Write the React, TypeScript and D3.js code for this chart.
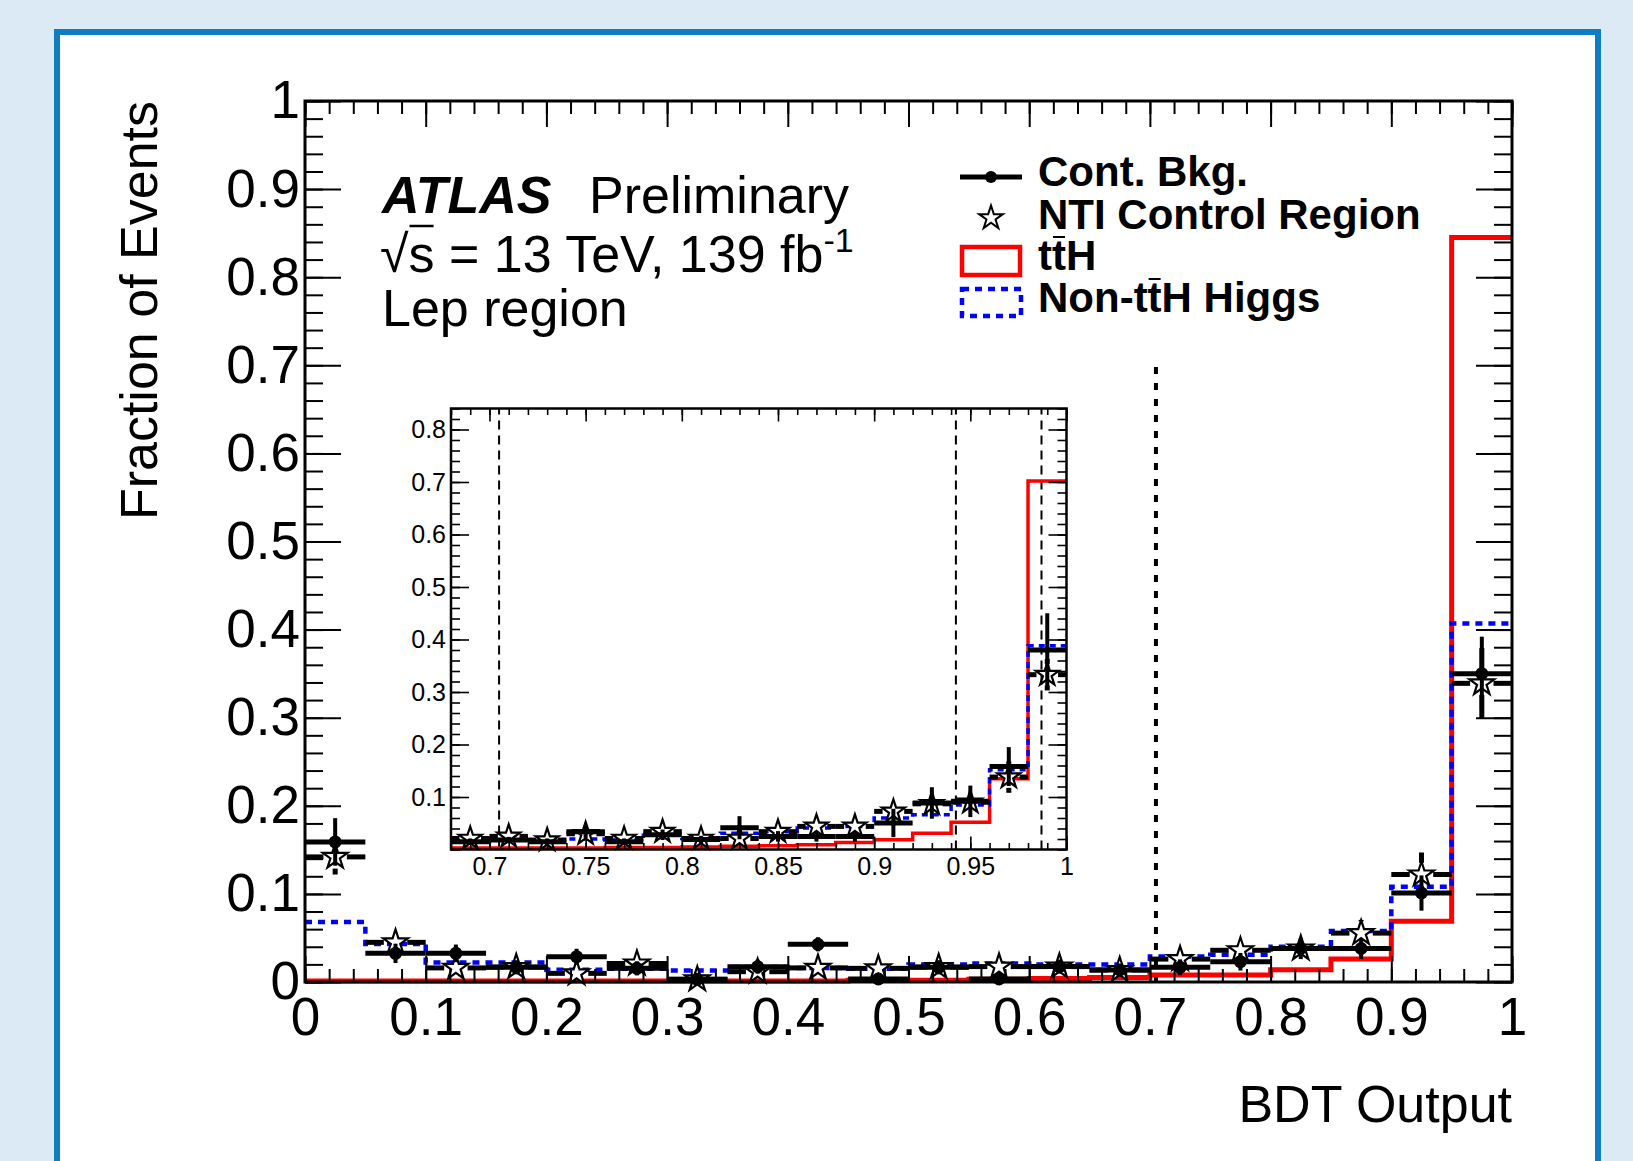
import React, { useEffect, useRef } from 'react';
import * as d3 from 'd3';

// ---- main panel: BDT output, 20 bins of width 0.05
const mainBinLow = [0, 0.05, 0.1, 0.15, 0.2, 0.25, 0.3, 0.35, 0.4, 0.45, 0.5, 0.55, 0.6, 0.65, 0.7, 0.75, 0.8, 0.85, 0.9, 0.95];
const mainBinWidth = 0.05;
const mainTtH = [0.001, 0.001, 0.001, 0.001, 0.001, 0.001, 0.001, 0.001, 0.001, 0.002, 0.002, 0.003, 0.004, 0.005, 0.008, 0.008, 0.014, 0.026, 0.069, 0.845];
const mainNonTtH = [0.068, 0.043, 0.022, 0.022, 0.014, 0.015, 0.013, 0.017, 0.016, 0.015, 0.02, 0.021, 0.02, 0.02, 0.029, 0.031, 0.04, 0.058, 0.108, 0.407];
const mainCont = [0.159, 0.0325, 0.0325, 0.0167, 0.0287, 0.0155, 0.003, 0.0174, 0.0428, 0.0034, 0.0167, 0.0034, 0.0175, 0.0136, 0.0167, 0.023, 0.038, 0.038, 0.101, 0.35];
const mainContErr = [0.027, 0.011, 0.01, 0.008, 0.009, 0.008, 0.006, 0.008, 0.008, 0.006, 0.008, 0.006, 0.008, 0.007, 0.009, 0.01, 0.012, 0.012, 0.02, 0.042];
const mainNTI = [0.142, 0.045, 0.016, 0.017, 0.0098, 0.021, 0.003, 0.0117, 0.016, 0.0155, 0.017, 0.0175, 0.0175, 0.0136, 0.026, 0.036, 0.038, 0.0555, 0.122, 0.339];
const mainNTIErr = [0.02, 0.012, 0.008, 0.008, 0.007, 0.008, 0.005, 0.007, 0.008, 0.008, 0.008, 0.008, 0.008, 0.007, 0.01, 0.012, 0.012, 0.015, 0.025, 0.04];
const mainCuts = [0.705];

// ---- inset: zoom on 0.68-1, 16 bins of width 0.02
const insetBinLow = [0.68, 0.7, 0.72, 0.74, 0.76, 0.78, 0.8, 0.82, 0.84, 0.86, 0.88, 0.9, 0.92, 0.94, 0.96, 0.98];
const insetBinWidth = 0.02;
const insetTtH = [0.003, 0.003, 0.003, 0.003, 0.004, 0.004, 0.005, 0.006, 0.007, 0.009, 0.0135, 0.0187, 0.031, 0.0517, 0.135, 0.702];
const insetNonTtH = [0.015, 0.018, 0.018, 0.02, 0.018, 0.027, 0.021, 0.031, 0.034, 0.041, 0.044, 0.06, 0.066, 0.085, 0.152, 0.388];
const insetCont = [0.015, 0.018, 0.015, 0.034, 0.015, 0.028, 0.019, 0.0415, 0.025, 0.025, 0.025, 0.0505, 0.0886, 0.0917, 0.158, 0.38];
const insetContErr = [0.006, 0.006, 0.006, 0.012, 0.006, 0.01, 0.007, 0.022, 0.01, 0.01, 0.01, 0.027, 0.03, 0.03, 0.037, 0.07];
const insetNTI = [0.021, 0.025, 0.018, 0.03, 0.021, 0.034, 0.021, 0.021, 0.034, 0.044, 0.044, 0.0726, 0.087, 0.09, 0.138, 0.333];
const insetNTIErr = [0.006, 0.006, 0.006, 0.008, 0.006, 0.008, 0.006, 0.006, 0.008, 0.01, 0.01, 0.015, 0.02, 0.02, 0.03, 0.03];
const insetCuts = [0.705, 0.9425, 0.987];

// ---- tick labels
const mainXLabels = ['0', '0.1', '0.2', '0.3', '0.4', '0.5', '0.6', '0.7', '0.8', '0.9', '1'];
const mainYLabels = ['0', '0.1', '0.2', '0.3', '0.4', '0.5', '0.6', '0.7', '0.8', '0.9', '1'];
const insetXLabels = ['0.7', '0.75', '0.8', '0.85', '0.9', '0.95', '1'];
const insetYLabels = ['0.1', '0.2', '0.3', '0.4', '0.5', '0.6', '0.7', '0.8'];

const W = 1633;
const H = 1161;
const FONT = "'Liberation Sans', Arial, Helvetica, sans-serif";

type Scale = d3.ScaleLinear<number, number>;
type Sel = d3.Selection<any, any, any, any>;

function stepHist(g: Sel, x: Scale, y: Scale, lows: number[], w: number, vals: number[], color: string, lw: number, dash: string | null) {
  const pts: [number, number][] = lows.map((b, i) => [b, vals[i]] as [number, number]);
  pts.push([lows[lows.length - 1] + w, vals[vals.length - 1]]);
  const line = d3.line<[number, number]>().x(d => x(d[0])).y(d => y(d[1])).curve(d3.curveStepAfter);
  g.append('path')
    .attr('d', line(pts))
    .attr('fill', 'none')
    .attr('stroke', color)
    .attr('stroke-width', lw)
    .attr('stroke-dasharray', dash)
    .attr('stroke-linejoin', 'miter');
}

function drawNTI(g: Sel, x: Scale, y: Scale, lows: number[], w: number, vals: number[], errs: number[], barW: number, starR: number) {
  const segs: number[][] = [];
  lows.forEach((b, i) => {
    const cx = x(b + w / 2), cy = y(vals[i]);
    const gap = starR * 0.9;
    segs.push([x(b), cy, cx - gap, cy]);
    segs.push([cx + gap, cy, x(b + w), cy]);
    const top = y(vals[i] + errs[i]);
    const bot = y(Math.max(0, vals[i] - errs[i]));
    if (cy - gap > top) segs.push([cx, top, cx, cy - gap]);
    if (bot > cy + gap) segs.push([cx, cy + gap, cx, bot]);
  });
  g.append('g').selectAll('line').data(segs).join('line')
    .attr('x1', d => d[0]).attr('y1', d => d[1]).attr('x2', d => d[2]).attr('y2', d => d[3])
    .attr('stroke', '#000').attr('stroke-width', barW);
  const star = d3.symbol().type(d3.symbolStar).size(starR * starR / 0.8908)();
  g.append('g').selectAll('path').data(lows).join('path')
    .attr('transform', (b, i) => `translate(${x(b + w / 2)},${y(vals[i])})`)
    .attr('d', star)
    .attr('fill', '#fff')
    .attr('stroke', '#000')
    .attr('stroke-width', 2.2);
}

function drawCont(g: Sel, x: Scale, y: Scale, lows: number[], w: number, vals: number[], errs: number[], barW: number, errW: number, dotR: number) {
  const cg = g.append('g');
  cg.selectAll('line.h').data(lows).join('line').attr('class', 'h')
    .attr('x1', b => x(b)).attr('x2', b => x(b + w))
    .attr('y1', (b, i) => y(vals[i])).attr('y2', (b, i) => y(vals[i]))
    .attr('stroke', '#000').attr('stroke-width', barW);
  cg.selectAll('line.v').data(lows).join('line').attr('class', 'v')
    .attr('x1', b => x(b + w / 2)).attr('x2', b => x(b + w / 2))
    .attr('y1', (b, i) => y(vals[i] + errs[i])).attr('y2', (b, i) => y(Math.max(0, vals[i] - errs[i])))
    .attr('stroke', '#000').attr('stroke-width', errW);
  cg.selectAll('circle').data(lows).join('circle')
    .attr('cx', b => x(b + w / 2)).attr('cy', (b, i) => y(vals[i]))
    .attr('r', dotR).attr('fill', '#000');
}

interface AxisOpts {
  xMinor: number[]; yMinor: number[];
  xLabels: string[]; yLabels: string[];
  xLen: number; yLen: number;
  font: number; xPad: number; yPad: number;
  tickW: number; frameW: number;
}

function drawAxes(g: Sel, x: Scale, y: Scale, o: AxisOpts) {
  const [x0, x1] = x.range();
  const [y0, y1] = y.range();
  const clean = (s: Sel, keepText: boolean) => {
    s.select('.domain').remove();
    if (!keepText) s.selectAll('text').remove();
    s.selectAll('line').attr('stroke', '#000').attr('stroke-width', o.tickW);
    s.attr('font-family', FONT).attr('font-size', o.font);
    s.selectAll('text').attr('fill', '#000');
  };
  const xMajor = o.xLabels.map(Number);
  const yMajor = o.yLabels.map(Number);
  // minor ticks on all four sides
  g.append('g').attr('transform', `translate(0,${y0})`).call(d3.axisBottom(x).tickValues(o.xMinor).tickSize(-o.xLen / 2)).call(clean, false);
  g.append('g').attr('transform', `translate(0,${y1})`).call(d3.axisTop(x).tickValues(o.xMinor).tickSize(-o.xLen / 2)).call(clean, false);
  g.append('g').attr('transform', `translate(${x0},0)`).call(d3.axisLeft(y).tickValues(o.yMinor).tickSize(-o.yLen / 2)).call(clean, false);
  g.append('g').attr('transform', `translate(${x1},0)`).call(d3.axisRight(y).tickValues(o.yMinor).tickSize(-o.yLen / 2)).call(clean, false);
  // major ticks, labelled on bottom and left
  g.append('g').attr('transform', `translate(0,${y0})`)
    .call(d3.axisBottom(x).tickValues(xMajor).tickFormat((d, i) => o.xLabels[i]).tickSize(-o.xLen).tickPadding(o.xPad))
    .call(clean, true);
  g.append('g').attr('transform', `translate(0,${y1})`).call(d3.axisTop(x).tickValues(xMajor).tickSize(-o.xLen)).call(clean, false);
  g.append('g').attr('transform', `translate(${x0},0)`)
    .call(d3.axisLeft(y).tickValues(yMajor).tickFormat((d, i) => o.yLabels[i]).tickSize(-o.yLen).tickPadding(o.yPad))
    .call(clean, true);
  g.append('g').attr('transform', `translate(${x1},0)`).call(d3.axisRight(y).tickValues(yMajor).tickSize(-o.yLen)).call(clean, false);
  g.append('rect')
    .attr('x', x0).attr('y', y1).attr('width', x1 - x0).attr('height', y0 - y1)
    .attr('fill', 'none').attr('stroke', '#000').attr('stroke-width', o.frameW);
}

function overline(svg: Sel, node: SVGTextElement, idx: number, dyAbove: number, baseline: number, w: number) {
  const e = node.getExtentOfChar(idx);
  svg.append('line')
    .attr('x1', e.x + 1).attr('x2', e.x + e.width - 1)
    .attr('y1', baseline - dyAbove).attr('y2', baseline - dyAbove)
    .attr('stroke', '#000').attr('stroke-width', w);
}

const App = () => {
  const svgRef = useRef<SVGSVGElement | null>(null);

  useEffect(() => {
    const svg = d3.select(svgRef.current);
    svg.selectAll('*').remove();

    // page background and framed white panel
    svg.append('rect').attr('width', W).attr('height', H).attr('fill', '#dbeaf5');
    svg.append('rect').attr('x', 57).attr('y', 32).attr('width', 1541).attr('height', 1300)
      .attr('fill', '#fff').attr('stroke', '#0e7ec1').attr('stroke-width', 6);

    // ---- main pad
    const x = d3.scaleLinear().domain([0, 1]).range([305, 1512]);
    const y = d3.scaleLinear().domain([0, 1]).range([982, 101]);
    const main = svg.append('g');

    main.selectAll('line.cut').data(mainCuts).join('line').attr('class', 'cut')
      .attr('x1', d => x(d)).attr('x2', d => x(d)).attr('y1', y(0)).attr('y2', y(0.7))
      .attr('stroke', '#000').attr('stroke-width', 4).attr('stroke-dasharray', '7 9');

    stepHist(main, x, y, mainBinLow, mainBinWidth, mainTtH, '#ff0000', 5, null);
    stepHist(main, x, y, mainBinLow, mainBinWidth, mainNonTtH, '#0000ff', 4.5, '7 6');
    drawNTI(main, x, y, mainBinLow, mainBinWidth, mainNTI, mainNTIErr, 5, 13);
    drawCont(main, x, y, mainBinLow, mainBinWidth, mainCont, mainContErr, 5, 4, 6.5);

    drawAxes(main, x, y, {
      xMinor: d3.range(0, 1.0001, 0.02), yMinor: d3.range(0, 1.0001, 0.02),
      xLabels: mainXLabels, yLabels: mainYLabels,
      xLen: 26, yLen: 36, font: 53, xPad: 15, yPad: 5, tickW: 2, frameW: 3,
    });

    // ---- inset pad
    const ix = d3.scaleLinear().domain([0.68, 1]).range([451, 1066.5]);
    const iy = d3.scaleLinear().domain([0, 0.84]).range([849.5, 408.5]);
    const inset = svg.append('g');
    inset.append('rect').attr('x', 451).attr('y', 408.5).attr('width', 615.5).attr('height', 441).attr('fill', '#fff');

    inset.selectAll('line.cut').data(insetCuts).join('line').attr('class', 'cut')
      .attr('x1', d => ix(d)).attr('x2', d => ix(d)).attr('y1', iy(0)).attr('y2', iy(0.84))
      .attr('stroke', '#000').attr('stroke-width', 2).attr('stroke-dasharray', '9 6');

    stepHist(inset, ix, iy, insetBinLow, insetBinWidth, insetTtH, '#ff0000', 3.5, null);
    stepHist(inset, ix, iy, insetBinLow, insetBinWidth, insetNonTtH, '#0000ff', 3.5, '6 5');
    drawNTI(inset, ix, iy, insetBinLow, insetBinWidth, insetNTI, insetNTIErr, 5, 12);
    drawCont(inset, ix, iy, insetBinLow, insetBinWidth, insetCont, insetContErr, 5, 4, 3);

    drawAxes(inset, ix, iy, {
      xMinor: d3.range(0.68, 1.0001, 0.01), yMinor: d3.range(0, 0.8401, 0.02),
      xLabels: insetXLabels, yLabels: insetYLabels,
      xLen: 13, yLen: 18, font: 25, xPad: 8, yPad: 5, tickW: 1.6, frameW: 2.5,
    });

    // ---- axis titles
    svg.append('text').attr('transform', 'translate(157,101) rotate(-90)')
      .attr('text-anchor', 'end').attr('font-family', FONT).attr('font-size', 52)
      .text('Fraction of Events');
    svg.append('text').attr('x', 1512).attr('y', 1122)
      .attr('text-anchor', 'end').attr('font-family', FONT).attr('font-size', 52)
      .text('BDT Output');

    // ---- ATLAS label
    svg.append('text').attr('x', 382).attr('y', 213).attr('font-family', FONT).attr('font-size', 52)
      .attr('font-weight', 'bold').attr('font-style', 'italic').text('ATLAS');
    svg.append('text').attr('x', 589).attr('y', 213).attr('font-family', FONT).attr('font-size', 52)
      .text('Preliminary');
    const lumi = svg.append('text').attr('x', 380).attr('y', 272).attr('font-family', FONT).attr('font-size', 52);
    lumi.append('tspan').text('\u221As = 13 TeV, 139 fb');
    lumi.append('tspan').attr('font-size', 34).attr('dy', -20).text('-1');
    overline(svg, lumi.node() as SVGTextElement, 1, 46, 272, 2.5);
    svg.append('text').attr('x', 382).attr('y', 326).attr('font-family', FONT).attr('font-size', 52)
      .text('Lep region');

    // ---- legend
    const lg = svg.append('g');
    lg.append('line').attr('x1', 960).attr('x2', 1022).attr('y1', 177).attr('y2', 177)
      .attr('stroke', '#000').attr('stroke-width', 5);
    lg.append('circle').attr('cx', 991).attr('cy', 177).attr('r', 6).attr('fill', '#000');
    lg.append('path').attr('transform', 'translate(991,218)')
      .attr('d', d3.symbol().type(d3.symbolStar).size(12.5 * 12.5 / 0.8908)())
      .attr('fill', '#fff').attr('stroke', '#000').attr('stroke-width', 2);
    lg.append('rect').attr('x', 962).attr('y', 247).attr('width', 58).attr('height', 28)
      .attr('fill', 'none').attr('stroke', '#ff0000').attr('stroke-width', 4.5);
    lg.append('rect').attr('x', 962).attr('y', 289).attr('width', 59).attr('height', 27)
      .attr('fill', 'none').attr('stroke', '#0000ff').attr('stroke-width', 4.5).attr('stroke-dasharray', '7 6');
    const legText = ['Cont. Bkg.', 'NTI Control Region', 'ttH', 'Non-ttH Higgs'];
    const legBase = [186, 229, 270, 312];
    const nodes: SVGTextElement[] = [];
    legText.forEach((t, i) => {
      const tx = lg.append('text').attr('x', 1038).attr('y', legBase[i])
        .attr('font-family', FONT).attr('font-size', 42).attr('font-weight', 'bold').text(t);
      nodes.push(tx.node() as SVGTextElement);
    });
    overline(lg, nodes[2], 1, 33, legBase[2], 2);
    overline(lg, nodes[3], 5, 33, legBase[3], 2);
  }, []);

  return (
    <div style={{ position: 'absolute', left: 0, top: 0, width: W, height: H, overflow: 'hidden' }}>
      <svg ref={svgRef} width={W} height={H} style={{ display: 'block' }} />
    </div>
  );
};

export default App;
